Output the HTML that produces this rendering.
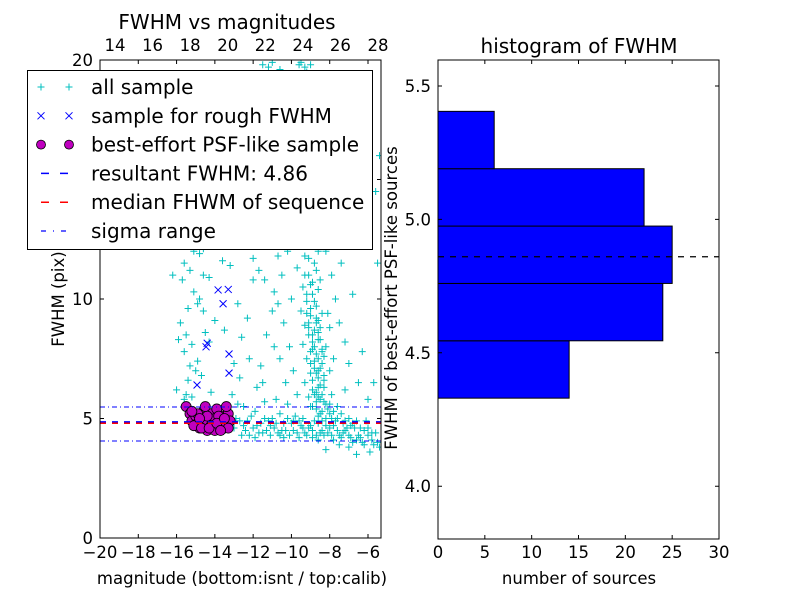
<!DOCTYPE html>
<html><head><meta charset="utf-8"><style>
body{margin:0;background:#fff}
svg{font-family:"DejaVu Sans","Liberation Sans",sans-serif}
</style></head><body>
<svg id="c" width="800" height="600" xmlns="http://www.w3.org/2000/svg"></svg>
<script>
const allPts=[[-9.2,19.5],[-9.5,18],[-9,17.2],[-8.8,16.5],[-9.6,16],[-9.1,15.2],[-8.7,15],[-9.4,14.5],[-9.9,14],[-8.9,13.8],[-9.2,13.3],[-9.6,12.8],[-8.6,12.5],[-9.0,12.2],[-9.3,11.8],[-8.8,11.5],[-9.7,11.3],[-9.1,11],[-8.5,10.8],[-9.4,10.5],[-8.9,10.2],[-9.2,9.9],[-8.7,9.7],[-9.5,9.5],[-9.0,9.3],[-8.6,9.1],[-9.3,8.9],[-8.8,8.7],[-9.1,8.5],[-8.5,8.3],[-9.4,8.1],[-8.9,7.9],[-8.7,7.7],[-9.2,7.5],[-8.4,7.3],[-8.8,7.1],[-9.0,6.9],[-8.6,6.7],[-9.3,6.5],[-8.3,6.3],[-8.7,6.1],[-9.1,5.9],[-8.5,5.8],[-8.2,5.6],[-8.9,5.5],[-8.4,5.3],[-8.0,5.2],[-8.6,5.1],
[-9.8,13],[-10.2,12],[-10.5,11],[-10.0,10],[-10.4,9],[-10.1,8],[-10.6,7.5],[-9.9,7],[-10.3,6.5],[-9.7,6],[-10.8,5.8],[-11.0,9.5],[-11.3,8.5],[-11.6,7.2],[-12.0,10.8],[-11.8,6.3],[-12.3,9.2],[-12.5,5.5],[-7.5,9],[-7.8,7.5],[-7.2,6.2],[-7.6,5.5],[-6.5,6.5],[-6.0,5.8],[-7.9,11],[-8.1,13],[-8.3,16],[-9.6,19.8],[-9.8,18.5],[-10.5,17],[-10.8,15],[-8.0,14.2],[-8.2,12],[-7.7,10],[-8.1,9.4],[-8.0,8.8],[-8.2,8.0],[-8.0,7.0],[-8.3,6.8],[-7.9,6.0],
[-8.9,8.2],[-9.0,7.8],[-8.8,7.4],[-8.6,7.0],[-8.9,6.6],[-8.5,6.4],[-8.8,6.0],[-8.7,5.7],[-9.1,8.8],[-9.2,9.4],[-8.6,8.6],[-8.4,7.9],[-8.3,7.6],[-8.7,9.0],[-9.0,10.6],[-9.3,12.4],[-8.7,13.4],
[-9.0,19.2],[-8.8,18.7],[-9.3,18.2],[-8.9,17.7],[-9.1,16.9],[-8.6,16.2],[-9.4,15.7],[-8.8,15.4],[-9.0,14.8],[-8.7,14.3],[-9.2,14.0],[-8.5,13.6],[-9.0,13.1],[-8.8,12.8],[-9.4,12.6],[-8.6,12.0],[-9.1,11.7],[-8.7,11.2],[-9.3,11.0],[-8.9,10.7],[-8.6,10.4],[-9.2,10.2],[-8.8,9.9],[-9.0,9.6],[-8.4,9.4],[-8.7,9.2],[-9.1,9.0],[-8.5,8.8],[-8.9,8.5],[-8.6,8.3],[-8.8,8.0],[-8.4,7.8],[-8.6,7.5],[-9.0,7.3],[-8.5,7.1],[-8.7,6.9],[-8.3,6.6],[-8.6,6.3],[-8.9,6.2],[-8.4,6.0],[-8.6,5.9],[-8.3,5.7],[-8.7,5.4],[-8.1,5.4],[-8.5,5.2],[-8.2,5.0],[-8.0,5.6],[-7.8,5.3],[-7.6,5.0],[-7.4,5.2],[-7.2,4.9],[-7.0,5.0],[-6.8,4.8],[-6.6,4.9],[-6.4,4.6],[-6.2,4.5],[-6.0,4.3],[-5.8,4.1],[-5.6,4.4],[-5.4,3.8],
[-13.0,4.6],[-12.7,4.9],[-12.4,4.5],[-12.1,5.1],[-11.8,4.7],[-11.5,4.4],[-11.2,4.9],[-10.9,4.6],[-10.6,5.2],[-10.3,4.5],[-10.0,4.8],[-9.7,4.4],[-9.4,5.0],[-9.1,4.6],[-8.8,4.9],[-8.5,4.4],[-8.2,4.7],[-7.9,5.0],[-7.6,4.5],[-7.3,4.8],[-7.0,4.3],[-6.7,4.6],[-6.4,4.2],[-6.1,4.9],[-5.8,4.4],[-5.5,4.0],[-12.9,5.0],[-12.5,4.7],[-12.2,4.3],[-11.9,5.3],[-11.6,4.8],[-11.3,4.5],[-11.0,5.0],[-10.7,4.4],[-10.4,4.8],[-10.1,4.3],[-9.8,5.1],[-9.5,4.7],[-9.2,4.3],[-8.9,4.5],[-8.6,4.8],[-8.3,4.3],[-8.0,4.6],[-7.7,4.9],[-7.4,4.2],[-7.1,4.6],[-6.8,4.0],[-6.5,4.3],[-6.2,3.9],[-5.9,3.6],[-7.0,3.8],[-6.6,3.5],[-12.8,5.6],[-11.4,5.7],[-10.2,5.6],[-9.0,5.5],
[-12.0,4.6],[-11.7,4.4],[-11.4,5.0],[-11.1,4.3],[-10.8,4.8],[-10.5,4.5],[-10.2,5.0],[-9.9,4.5],[-9.6,4.9],[-9.3,4.4],[-9.0,4.7],[-8.7,4.3],[-8.4,4.9],[-8.1,4.4],[-7.8,4.7],[-7.5,4.3],[-7.2,4.5],[-6.9,4.2],[-6.6,4.1],[-6.3,4.0],[-7.8,4.1],[-8.6,4.1],[-9.6,4.2],[-10.6,4.3],[-12.6,4.3],[-12.3,4.9],[-11.9,4.2],[-11.1,4.7],[-10.4,4.2],[-9.9,4.9],[-9.4,4.6],[-8.9,4.2],[-8.4,4.5],[-7.9,4.3],[-7.3,4.4],[-6.9,4.7],[-6.0,4.6],[-5.7,3.9],[-7.5,3.9],[-8.2,3.7],
[-11.8,13.5],[-11.0,12.8],[-10.7,11.8],[-11.4,10.8],[-10.9,10.3],[-12.4,12.6],[-12.2,7.5],[-11.5,6.5],[-10.9,8.0],[-12.8,9.8],[-13.1,6.0],[-12.7,6.7],[-10.7,9.8],[-11.7,11.2],[-10.0,15.5],[-10.2,17.8],[-9.9,16.5],[-8.2,17.5],[-8.4,18.5],[-7.2,8.2],[-7.0,7.3],[-6.3,7.8],[-6.8,10.2],[-7.4,11.5],
[-15.6,11.5],[-15.3,11.2],[-15.8,9.0],[-15.5,8.5],[-15.2,8.1],[-15.6,7.8],[-15.0,7.0],[-15.4,6.6],[-16.0,6.2],[-14.8,11.9],[-15.0,13],[-15.3,12.7],[-14.1,13.5],[-14.8,10.0],[-14.6,9.5],[-14.5,8.6],[-14.3,8.2],[-14.9,9.8],[-14.0,9.1],[-15.2,5.9],[-15.5,6.0],[-14.2,6.1],[-13.6,11.6],[-13.2,11.4],[-12.0,11.7],[-13.5,8.7],[-13.0,7.3],[-12.6,8.4],[-14.6,12.1],[-15.1,10.3],[-16.3,12.5],[-15.8,14.2],[-13.9,14.5],[-13.4,15.5],[-11.5,14],
[-15.7,10.8],[-15.4,9.6],[-15.9,8.3],[-14.9,7.4],[-15.3,7.2],[-14.6,11.0],[-15.1,12.0],[-14.3,10.9],[-15.6,5.8],[-14.7,6.8],[-16.2,11.0],[-5.6,14.5],[-5.5,11.5],[-5.7,6.5],[-5.4,16],
[-11.5,19.8],[-11.2,19.7],[-11.0,19.9],[-10.6,19.6],[-9.5,19.9],[-9.3,19.7],[-9.0,19.8]];
const roughPts=[[-13.83,10.38],[-13.3,10.4],[-13.57,9.8],[-14.46,8.0],[-14.4,8.15],[-13.26,7.7],[-13.26,6.9],[-14.93,6.4]];
const bestPts=[[-15.5,5.5],[-15.3,5.2],[-15.2,4.9],[-15.0,5.1],[-14.9,4.8],[-14.8,4.6],[-14.7,5.0],[-14.6,5.3],[-14.5,4.7],[-14.4,4.5],[-14.3,4.9],[-14.2,5.2],[-14.1,4.6],[-14.0,5.0],[-13.9,5.4],[-13.8,4.7],[-13.7,4.9],[-13.6,5.1],[-13.5,4.6],[-13.4,4.8],[-13.3,5.2],[-13.2,4.9],[-15.1,4.7],[-14.9,5.2],[-14.6,4.8],[-14.4,5.1],[-14.2,4.7],[-14.0,4.5],[-13.8,5.1],[-13.6,4.6],[-13.4,5.5],[-13.3,4.6],[-14.7,4.6],[-14.5,5.5],[-14.3,4.6],[-13.9,4.8],[-13.7,4.5],[-13.5,5.0],[-15.2,5.3],[-14.8,5.0]];
const resultFwhm=4.86, medianFwhm=4.8, sigmaLo=4.06, sigmaHi=5.48;
const binEdges=[4.33,4.545,4.76,4.975,5.19,5.405];
const binCounts=[14,24,25,22,6];
const xTicks=[-20,-18,-16,-14,-12,-10,-8,-6];
const topTicks=[14,16,18,20,22,24,26,28];
const yTicks=[0,5,10,15,20];
const hxTicks=[0,5,10,15,20,25,30];
const hyTicks=[4.0,4.5,5.0,5.5];

const NS="http://www.w3.org/2000/svg", svg=document.getElementById('c');
function el(t,a,p){const e=document.createElementNS(NS,t);for(const k in a)e.setAttribute(k,a[k]);(p||svg).appendChild(e);return e;}
function tx(s,a,p){const e=el('text',a,p);e.textContent=s;return e;}
const L={x0:100,x1:381,y0:60,y1:538};
const xs=m=>100+(m+20)*19.143, ys=f=>538-f*23.9, xt=v=>115+(v-14)*18.786;
const clip=el('clipPath',{id:'cl'});el('rect',{x:L.x0,y:L.y0,width:L.x1-L.x0,height:L.y1-L.y0},clip);
const plot=el('g',{'clip-path':'url(#cl)'});

function plus(x,y,c,g){el('path',{d:`M${x-3.5} ${y}h7M${x} ${y-3.5}v7`,stroke:c,'stroke-width':1,fill:'none'},g);}
function cross(x,y,c,g){el('path',{d:`M${x-3.5} ${y-3.5}l7 7M${x-3.5} ${y+3.5}l7 -7`,stroke:c,'stroke-width':1,fill:'none'},g);}
for(const p of allPts){plus(xs(p[0]),ys(p[1]),'#00bfbf',plot);}
for(const p of roughPts){cross(xs(p[0]),ys(p[1]),'#0000ff',plot);}
for(const p of bestPts){const c=el('circle',{cx:xs(p[0]),cy:ys(p[1]),r:5,fill:'#bf00bf',stroke:'#000','stroke-width':0.8},plot);
}
let ln=el('line',{x1:L.x0,x2:L.x1,y1:ys(resultFwhm),y2:ys(resultFwhm),stroke:'#0000ff','stroke-width':1.5,'stroke-dasharray':'6 6'},plot);

ln=el('line',{x1:L.x0,x2:L.x1,y1:ys(medianFwhm),y2:ys(medianFwhm),stroke:'#ff0000','stroke-width':1.5,'stroke-dasharray':'6 6'},plot);

for(const s of [sigmaLo,sigmaHi]){ln=el('line',{x1:L.x0,x2:L.x1,y1:ys(s),y2:ys(s),stroke:'#0000ff','stroke-width':1,'stroke-dasharray':'5 3 1 3'},plot);
}
el('rect',{x:L.x0,y:L.y0,width:L.x1-L.x0,height:L.y1-L.y0,fill:'none',stroke:'#000'});
for(const v of xTicks){const x=xs(v);el('path',{d:`M${x} ${L.y1}v-4M${x} ${L.y0}v4`,stroke:'#000'});
const t=tx((v<0?'\u2212':'')+Math.abs(v),{x:x,y:558,'font-size':16.5,'text-anchor':'middle'});}
for(const v of topTicks){const x=xt(v);
const t=tx(String(v),{x:x,y:51,'font-size':16.5,'text-anchor':'middle'});}
for(const v of yTicks){const y=ys(v);el('path',{d:`M${L.x0} ${y}h4M${L.x1} ${y}h-4`,stroke:'#000'});
const t=tx(String(v),{x:93,y:y+6,'font-size':16.5,'text-anchor':'end'});}
let t=tx('FWHM vs magnitudes',{x:227,y:29,'font-size':20,'text-anchor':'middle'});
t=tx('magnitude (bottom:isnt / top:calib)',{x:242,y:584,'font-size':16.5,'text-anchor':'middle'});
t=tx('FWHM (pix)',{x:64,y:299,'font-size':16.5,'text-anchor':'middle',transform:'rotate(-90 64 299)'});
const lg=el('g',{});
el('rect',{x:27.5,y:70.5,width:345,height:179,fill:'#fff',stroke:'#000'},lg);
const labels=['all sample','sample for rough FWHM','best-effort PSF-like sample','resultant FWHM: 4.86','median FHWM of sequence','sigma range'];
labels.forEach((s,i)=>{const y=87+i*28.8;const g=el('g',{},lg);
if(i==0){plus(41,y,'#00bfbf',g);plus(69,y,'#00bfbf',g);}
if(i==1){cross(41,y,'#0000ff',g);cross(69,y,'#0000ff',g);}
if(i==2){el('circle',{cx:41,cy:y,r:4.5,fill:'#bf00bf',stroke:'#000','stroke-width':0.8},g);el('circle',{cx:69,cy:y,r:4.5,fill:'#bf00bf',stroke:'#000','stroke-width':0.8},g);}
if(i==3||i==4)el('path',{d:`M41 ${y}h8M60 ${y}h8`,stroke:i==3?'#0000ff':'#ff0000','stroke-width':1.5},g);
if(i==5)el('path',{d:`M41 ${y}h5M53 ${y}h1M61 ${y}h5`,stroke:'#0000ff','stroke-width':1.2},g);
tx(s,{x:91,y:y+7,'font-size':20},g);});
const H={x0:438,x1:719,y0:60,y1:539};
const hx=v=>438+v*9.367, hy=f=>86+(5.5-f)*266.8;
for(let i=0;i<binCounts.length;i++){const r=el('rect',{x:H.x0,y:hy(binEdges[i+1]),width:hx(binCounts[i])-H.x0,height:hy(binEdges[i])-hy(binEdges[i+1]),fill:'#0000ff',stroke:'#000','stroke-width':1});
}
ln=el('line',{x1:H.x0,x2:H.x1,y1:hy(resultFwhm),y2:hy(resultFwhm),stroke:'#000','stroke-width':1.2,'stroke-dasharray':'6 6'});

el('rect',{x:H.x0,y:H.y0,width:H.x1-H.x0,height:H.y1-H.y0,fill:'none',stroke:'#000'});
for(const v of hxTicks){const x=hx(v);el('path',{d:`M${x} ${H.y1}v-4M${x} ${H.y0}v4`,stroke:'#000'});
t=tx(String(v),{x:x,y:558,'font-size':16.5,'text-anchor':'middle'});}
for(const v of hyTicks){const y=hy(v);el('path',{d:`M${H.x0} ${y}h4M${H.x1} ${y}h-4`,stroke:'#000'});
t=tx(v.toFixed(1),{x:431,y:y+6,'font-size':16.5,'text-anchor':'end'});}
t=tx('histogram of FWHM',{x:579,y:53,'font-size':20,'text-anchor':'middle'});
t=tx('number of sources',{x:579,y:584,'font-size':16.5,'text-anchor':'middle'});
t=tx('FWHM of best-effort PSF-like sources',{x:397,y:298,'font-size':16.5,'text-anchor':'middle',transform:'rotate(-90 397 298)'});
</script>
</body></html>
